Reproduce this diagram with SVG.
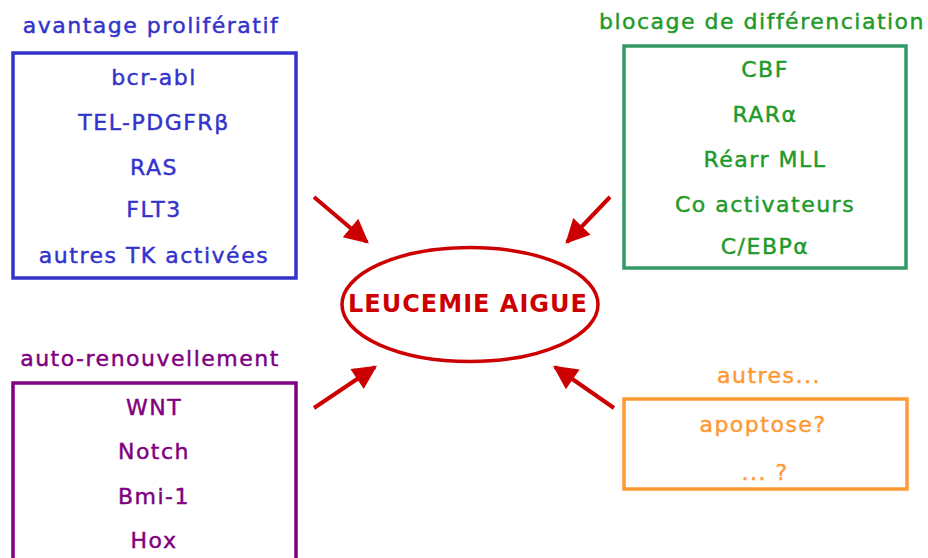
<svg xmlns="http://www.w3.org/2000/svg" width="928" height="558" viewBox="0 0 928 558">
<style>
text{font-family:"DejaVu Sans","Noto Sans",sans-serif;font-size:22px;letter-spacing:1.5px;text-anchor:middle;stroke-width:0.45}
.box{fill:none;stroke-width:3.5}
.blue{fill:#3333cc;stroke:#3333cc}.green{fill:#1f9a2a;stroke:#1f9a2a}.purple{fill:#800080;stroke:#800080}.orange{fill:#ff9933;stroke:#ff9933}
.arr{stroke:#cc0000;stroke-width:4;fill:none;marker-end:url(#ah)}
</style>
<defs>
<marker id="ah" viewBox="0 0 10 10" refX="9" refY="5" markerUnits="userSpaceOnUse" markerWidth="28" markerHeight="24" orient="auto">
<path d="M0,0 L10,5 L0,10 z" fill="#cc0000"/>
</marker>
</defs>
<rect width="928" height="558" fill="#ffffff"/>
<g id="connectors">
<line class="arr" x1="314" y1="197" x2="367" y2="242"/>
<line class="arr" x1="610" y1="197" x2="567" y2="242"/>
<line class="arr" x1="314" y1="408" x2="375" y2="367"/>
<line class="arr" x1="614" y1="408" x2="555" y2="367"/>
</g>
<g id="center">
<ellipse cx="470" cy="304.5" rx="128" ry="57" fill="none" stroke="#cc0000" stroke-width="3.5"/>
<text x="468" y="312" style="font-size:24px;font-weight:bold;letter-spacing:1px;fill:#cc0000;stroke:none">LEUCEMIE AIGUE</text>
</g>
<g id="proliferatif">
<text class="blue" x="151" y="33">avantage prolifératif</text>
<rect class="box" x="13" y="53" width="283" height="225" stroke="#3333cc"/>
<text class="blue" x="154" y="85">bcr-abl</text>
<text class="blue" x="154" y="130">TEL-PDGFRβ</text>
<text class="blue" x="154" y="175">RAS</text>
<text class="blue" x="154" y="217">FLT3</text>
<text class="blue" x="154" y="263">autres TK activées</text>
</g>
<g id="differenciation">
<text class="green" x="762" y="29">blocage de différenciation</text>
<rect class="box" x="624" y="46" width="282" height="222" stroke="#339966"/>
<text class="green" x="765" y="77">CBF</text>
<text class="green" x="765" y="122">RARα</text>
<text class="green" x="765" y="167">Réarr MLL</text>
<text class="green" x="765" y="212">Co activateurs</text>
<text class="green" x="765" y="254">C/EBPα</text>
</g>
<g id="autorenouvellement">
<text class="purple" x="150" y="366">auto-renouvellement</text>
<rect class="box" x="13" y="383" width="283" height="190" stroke="#800080"/>
<text class="purple" x="154" y="415">WNT</text>
<text class="purple" x="154" y="459">Notch</text>
<text class="purple" x="154" y="504">Bmi-1</text>
<text class="purple" x="154" y="548">Hox</text>
</g>
<g id="autres">
<text class="orange" x="769" y="383">autres...</text>
<rect class="box" x="624" y="399" width="283" height="90" stroke="#ff9933"/>
<text class="orange" x="763" y="432">apoptose?</text>
<text class="orange" x="765" y="480">... ?</text>
</g>
</svg>
